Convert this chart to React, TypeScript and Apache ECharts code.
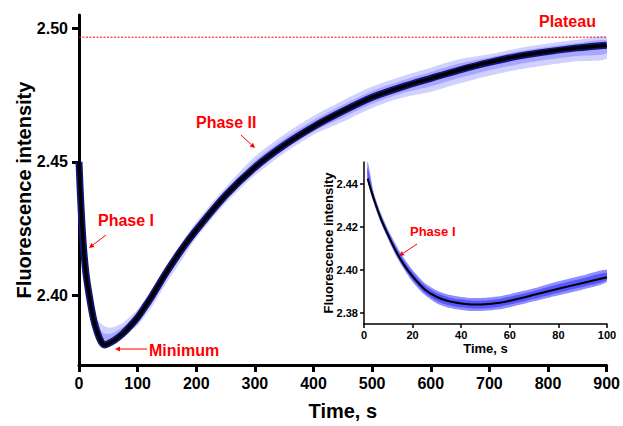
import React, { useEffect, useRef } from "react";
import * as echarts from "echarts";

// ---------- Main chart data (time in s, fluorescence intensity) ----------
const mainTimes = [0, 3, 7, 12, 19, 25, 30, 35, 40, 44, 50, 60, 75, 90, 100, 112, 125, 150, 175, 200, 250, 300, 350, 400, 450, 500, 550, 600, 650, 700, 750, 800, 850, 900];
const mainFit = [2.45, 2.435, 2.42, 2.408, 2.398, 2.391, 2.387, 2.384, 2.382, 2.3815, 2.382, 2.3832, 2.3858, 2.3892, 2.3918, 2.3956, 2.4, 2.409, 2.4172, 2.4245, 2.4375, 2.448, 2.4563, 2.4632, 2.469, 2.4742, 2.478, 2.4813, 2.4845, 2.4873, 2.4896, 2.4913, 2.4927, 2.4937];
// scatter cloud spread below / above the fit
const mainSpreadBelow = [0.001, 0.001, 0.001, 0.001, 0.001, 0.001, 0.001, 0.001, 0.001, 0.001, 0.001, 0.001, 0.0015, 0.002, 0.003, 0.0035, 0.004, 0.004, 0.004, 0.003, 0.003, 0.003, 0.003, 0.003, 0.004, 0.004, 0.004, 0.005, 0.005, 0.005, 0.005, 0.005, 0.005, 0.005];
const mainSpreadAbove = [0.002, 0.002, 0.0015, 0.0015, 0.0015, 0.002, 0.004, 0.006, 0.007, 0.007, 0.006, 0.005, 0.004, 0.0035, 0.003, 0.0028, 0.0025, 0.0025, 0.0025, 0.003, 0.003, 0.004, 0.004, 0.004, 0.004, 0.004, 0.004, 0.004, 0.004, 0.003, 0.003, 0.003, 0.003, 0.003];
const plateauValue = 2.4967;
const plateauTimes = [0, 900];
const mainYTicks = [2.4, 2.45, 2.5];

// ---------- Inset data (first 100 s) ----------
const insetTimes = [1.5, 4, 7, 10, 13, 16, 20, 25, 30, 35, 40, 45, 50, 55, 60, 70, 80, 90, 100];
const insetFit = [2.4423, 2.433, 2.4236, 2.416, 2.409, 2.4032, 2.397, 2.391, 2.3875, 2.3855, 2.3845, 2.384, 2.3841, 2.3847, 2.3858, 2.3885, 2.3913, 2.394, 2.3966];
const insetSpreadBelow = [0.001, 0.002, 0.002, 0.002, 0.002, 0.002, 0.0025, 0.0025, 0.003, 0.003, 0.003, 0.003, 0.003, 0.003, 0.003, 0.003, 0.003, 0.003, 0.002];
const insetSpreadAbove = [0.008, 0.003, 0.0025, 0.0025, 0.003, 0.003, 0.003, 0.003, 0.003, 0.003, 0.003, 0.003, 0.003, 0.003, 0.003, 0.003, 0.0035, 0.0035, 0.0035];
const insetYTicks = [2.38, 2.4, 2.42, 2.44];

const FONT = "'Liberation Sans', Arial, Helvetica, sans-serif";
const RED = "#ff0000";

function arrow(x1: number, y1: number, x2: number, y2: number) {
  const a = Math.atan2(y2 - y1, x2 - x1);
  const L = 5, W = 2.5;
  const bx = x2 - L * Math.cos(a), by = y2 - L * Math.sin(a);
  const px = -Math.sin(a) * W, py = Math.cos(a) * W;
  return {
    type: "group",
    children: [
      { type: "line", shape: { x1, y1, x2: bx, y2: by }, style: { stroke: RED, lineWidth: 1 } },
      { type: "polygon", shape: { points: [[x2, y2], [bx + px, by + py], [bx - px, by - py]] }, style: { fill: RED } },
    ],
  };
}

function label(text: string, x: number, y: number, size: number) {
  return {
    type: "text",
    x,
    y,
    style: { text, fill: RED, font: `bold ${size}px ${FONT}`, textVerticalAlign: "middle", textAlign: "left" },
  };
}

// band series drawn through the axis scales (api.coord)
function bandSeries(
  axisIndex: number,
  times: number[],
  fit: number[],
  below: number[],
  above: number[],
  scale: number,
  fill: string
) {
  return {
    type: "custom",
    xAxisIndex: axisIndex,
    yAxisIndex: axisIndex,
    silent: true,
    clip: true,
    data: times.map((t, i) => [t, fit[i]]),
    renderItem: (params: any, api: any) => {
      if (params.dataIndex !== 0) return null;
      const up = times.map((t, i) => api.coord([t, fit[i] + above[i] * scale]));
      const lo = times.map((t, i) => api.coord([t, fit[i] - below[i] * scale])).reverse();
      return {
        type: "polygon",
        shape: { points: up.concat(lo), smooth: 0.25 },
        style: { fill },
      };
    },
  };
}

export default function App() {
  const ref = useRef<HTMLDivElement>(null);
  useEffect(() => {
    if (!ref.current) return;
    const chart = echarts.init(ref.current, undefined, { renderer: "svg" });

    const mainLine = mainTimes.map((t, i) => [t, mainFit[i]]);
    const insetLine = insetTimes.map((t, i) => [t, insetFit[i]]);
    const plateauLine = plateauTimes.map((t) => [t, plateauValue]);

    const axisText = (size: number) => ({ color: "#000", fontWeight: "bold", fontSize: size, fontFamily: FONT });

    chart.setOption({
      animation: false,
      grid: [
        { left: 79, right: 16, top: 15, bottom: 56 },
        { left: 364, right: 16, top: 162, bottom: 102 },
      ],
      xAxis: [
        {
          type: "value", gridIndex: 0, min: 0, max: 900, interval: 100,
          axisLine: { lineStyle: { color: "#000", width: 3 } },
          axisTick: { show: true, length: 7, lineStyle: { color: "#000", width: 3 } },
          axisLabel: { ...axisText(16), margin: 10 },
          splitLine: { show: false },
          name: "Time, s", nameLocation: "middle", nameGap: 36, nameMoveOverlap: false,
          nameTextStyle: axisText(20),
        },
        {
          type: "value", gridIndex: 1, min: 0, max: 100, interval: 20,
          axisLine: { lineStyle: { color: "#000", width: 1.5 } },
          axisTick: { show: true, length: 4, lineStyle: { color: "#000", width: 1.5 } },
          axisLabel: { ...axisText(11), margin: 5 },
          splitLine: { show: false },
          name: "Time, s", nameLocation: "middle", nameGap: 18, nameMoveOverlap: false,
          nameTextStyle: axisText(13),
        },
      ],
      yAxis: [
        {
          type: "value", gridIndex: 0, min: 2.374, max: 2.505,
          axisLine: { show: true, lineStyle: { color: "#000", width: 3 } },
          axisTick: { show: true, length: 7, lineStyle: { color: "#000", width: 3 }, customValues: mainYTicks },
          axisLabel: { ...axisText(16), margin: 11, customValues: mainYTicks, formatter: (v: number) => v.toFixed(2) },
          splitLine: { show: false },
          name: "Fluorescence intensity", nameLocation: "middle", nameGap: 45, nameMoveOverlap: false,
          nameTextStyle: axisText(20),
        },
        {
          type: "value", gridIndex: 1, min: 2.375, max: 2.45,
          axisLine: { show: true, lineStyle: { color: "#000", width: 1.5 } },
          axisTick: { show: true, length: 4, lineStyle: { color: "#000", width: 1.5 }, customValues: insetYTicks },
          axisLabel: { ...axisText(11), margin: 6, customValues: insetYTicks, formatter: (v: number) => v.toFixed(2) },
          splitLine: { show: false },
          name: "Fluorescence intensity", nameLocation: "middle", nameGap: 29, nameMoveOverlap: false,
          nameTextStyle: axisText(13),
        },
      ],
      series: [
        {
          type: "line", xAxisIndex: 0, yAxisIndex: 0, data: plateauLine, symbol: "none", silent: true,
          lineStyle: { color: RED, type: [2, 1.5], width: 1 },
        },
        bandSeries(0, mainTimes, mainFit, mainSpreadBelow, mainSpreadAbove, 1, "rgba(90,90,255,0.28)"),
        bandSeries(0, mainTimes, mainFit, mainSpreadBelow, mainSpreadAbove, 0.6, "rgba(70,70,255,0.3)"),
        {
          type: "line", xAxisIndex: 0, yAxisIndex: 0, data: mainLine, symbol: "none", smooth: 0.3,
          lineStyle: { color: "#14147a", width: 7 },
        },
        {
          type: "line", xAxisIndex: 0, yAxisIndex: 0, data: mainLine, symbol: "none", smooth: 0.3,
          lineStyle: { color: "#000", width: 3.5 },
        },
        bandSeries(1, insetTimes, insetFit, insetSpreadBelow, insetSpreadAbove, 1, "rgba(50,50,255,0.55)"),
        bandSeries(1, insetTimes, insetFit, insetSpreadBelow, insetSpreadAbove, 0.6, "rgba(30,30,255,0.5)"),
        {
          type: "line", xAxisIndex: 1, yAxisIndex: 1, data: insetLine, symbol: "none", smooth: 0.3,
          lineStyle: { color: "#000", width: 2 },
        },
      ],
      graphic: [
        label("Plateau", 539, 21, 16),
        label("Phase II", 196, 122, 16),
        label("Phase I", 98, 220, 16),
        label("Minimum", 149, 350, 16),
        label("Phase I", 410, 231, 13),
        arrow(106, 235, 89, 248),
        arrow(241, 135, 255, 148),
        arrow(147, 349, 115, 349),
        arrow(417, 244, 399, 256),
      ],
    });
    return () => chart.dispose();
  }, []);
  return <div ref={ref} style={{ position: "fixed", left: 0, top: 0, width: 623, height: 426, background: "#fff" }} />;
}
